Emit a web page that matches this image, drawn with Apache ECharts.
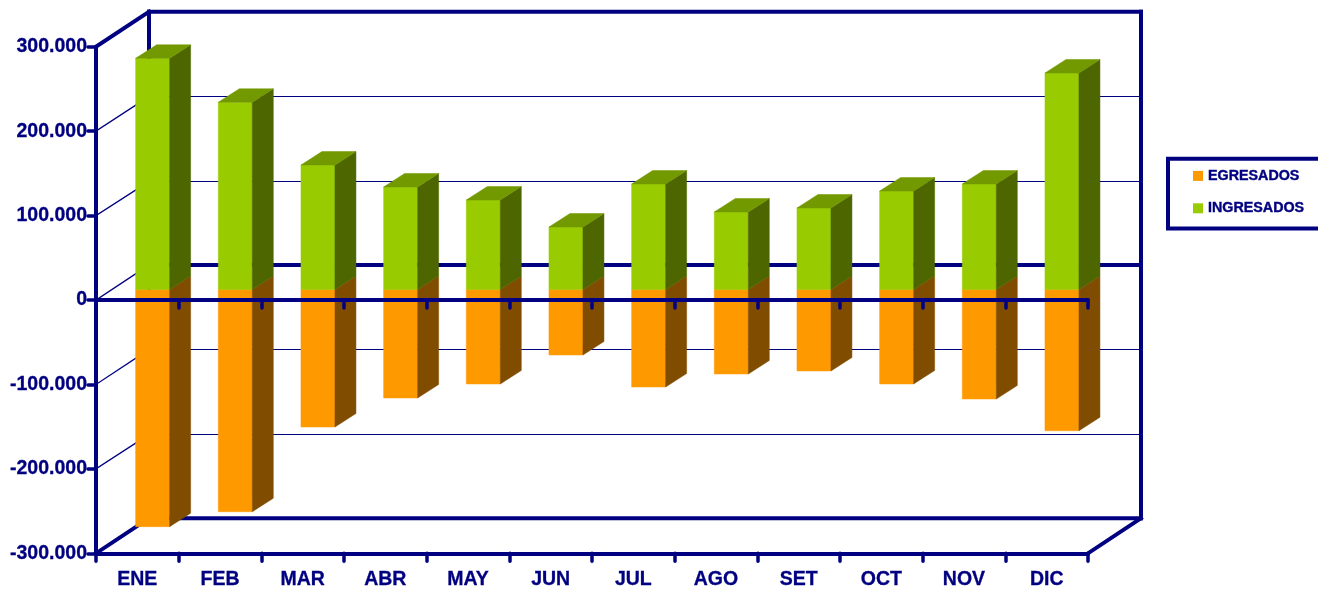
<!DOCTYPE html>
<html>
<head>
<meta charset="utf-8">
<style>
  html, body { margin: 0; padding: 0; background: #fff; }
  #chart { width: 1318px; height: 589px; }
</style>
<script src="https://cdn.jsdelivr.net/npm/echarts@6/dist/echarts.min.js"></script>
</head>
<body>
<div id="chart"></div>
<script>
var categories = ['ENE', 'FEB', 'MAR', 'ABR', 'MAY', 'JUN', 'JUL', 'AGO', 'SET', 'OCT', 'NOV', 'DIC'];
var ingresados = [273700, 221600, 147300, 121300, 105900, 73900, 124800, 91700, 96400, 116500, 124800, 256300];
var egresados = [-281000, -263300, -163000, -128600, -112000, -77700, -115600, -100200, -96600, -112000, -129800, -167400];
var yTicks = [-300000, -200000, -100000, 0, 100000, 200000, 300000];

var NAVY = '#000080';
var FONT = '"Liberation Sans", Arial, sans-serif';

// profundidad de la caja y de las barras, en pixeles
var boxDx = 53, boxDy = 35;
var barOffX = 15.3, barOffY = 10.6;
var barDx = 21, barDy = 13.5;

function thousands(v) {
  var s = String(Math.abs(v)).replace(/\B(?=(\d{3})+$)/g, '.');
  return (v < 0 ? '-' : '') + s;
}

function line(x1, y1, x2, y2, width) {
  return {
    type: 'line',
    shape: { x1: x1, y1: y1, x2: x2, y2: y2 },
    style: { stroke: NAVY, lineWidth: width, lineCap: 'square' }
  };
}

// paredes del fondo: una linea por cada marca del eje
function renderWalls(params, api) {
  var box = params.coordSys;
  var left = box.x, right = box.x + box.width;
  var v = api.value(1);
  var y = api.coord([0, v])[1];
  var edge = Math.abs(v) === 300000;
  var thick = edge || v === 0;
  var backY = thick ? y - boxDy : Math.round(y - boxDy) + 0.5;
  var items = [
    line(left + boxDx, backY, right + boxDx, backY, thick ? 4 : 1),
    line(left, y, left + boxDx, backY, edge ? 4 : 1.3)
  ];
  if (v === 300000) {
    items.push(line(left + boxDx, y - boxDy, left + boxDx, y - boxDy + box.height, 4));
    items.push(line(right + boxDx, y - boxDy, right + boxDx, y - boxDy + box.height, 4));
  }
  if (v === -300000) {
    items.push(line(right, y, right + boxDx, y - boxDy, 4));
  }
  return { type: 'group', silent: true, children: items };
}

function poly(points, fill) {
  return {
    type: 'polygon',
    shape: { points: points },
    style: { fill: fill, stroke: fill, lineWidth: 0.5 }
  };
}

function barRenderer(front, side, top) {
  return function (params, api) {
    var i = api.value(0), v = api.value(1);
    var base = api.coord([i, 0]);
    var end = api.coord([i, v]);
    var w = 34;
    var x0 = base[0] + barOffX - w / 2, x1 = x0 + w;
    var y0 = base[1] - barOffY, y1 = end[1] - barOffY;
    var items = [
      poly([[x0, y0], [x1, y0], [x1, y1], [x0, y1]], front),
      poly([[x1, y0], [x1 + barDx, y0 - barDy], [x1 + barDx, y1 - barDy], [x1, y1]], side)
    ];
    if (v > 0) {
      items.push(poly([[x0, y1], [x1, y1], [x1 + barDx, y1 - barDy], [x0 + barDx, y1 - barDy]], top));
    }
    return { type: 'group', children: items };
  };
}

var myChart = echarts.init(document.getElementById('chart'), null, { renderer: 'canvas' });

var tickStyle = { color: NAVY, width: 3.5, cap: 'round' };

var option = {
  animation: false,
  backgroundColor: '#fff',
  color: ['#FF9900', '#99CC00'],
  grid: { left: 96, top: 46.7, width: 992, height: 506.6, containLabel: false, outerBoundsMode: 'none' },
  legend: {
    data: ['EGRESADOS', 'INGRESADOS'],
    orient: 'vertical',
    left: 1168,
    top: 158.7,
    padding: [10, 30, 13, 25],
    itemWidth: 10,
    itemHeight: 10,
    itemGap: 18,
    icon: 'rect',
    borderColor: NAVY,
    borderWidth: 4,
    borderRadius: 0,
    textStyle: { color: NAVY, fontFamily: FONT, fontWeight: 'bold', fontSize: 14.3, textBorderColor: NAVY, textBorderWidth: 0.4 }
  },
  xAxis: [
    {
      type: 'category',
      data: categories,
      position: 'bottom',
      z: 5,
      axisLine: { onZero: false, lineStyle: { color: NAVY, width: 4 } },
      axisTick: { show: true, alignWithLabel: false, length: 8, lineStyle: tickStyle },
      axisLabel: { margin: 16, color: NAVY, fontFamily: FONT, fontWeight: 'bold', fontSize: 19.5, textBorderColor: NAVY, textBorderWidth: 0.3 },
      splitLine: { show: false }
    },
    {
      type: 'category',
      data: categories,
      position: 'bottom',
      z: 5,
      axisLine: { onZero: true, lineStyle: { color: NAVY, width: 4 } },
      axisTick: { show: true, alignWithLabel: false, length: 8, lineStyle: tickStyle },
      axisLabel: { show: false },
      splitLine: { show: false }
    }
  ],
  yAxis: {
    type: 'value',
    min: -300000,
    max: 300000,
    interval: 100000,
    z: 5,
    axisLine: { show: true, lineStyle: { color: NAVY, width: 4 } },
    axisTick: { show: true, length: 8, lineStyle: tickStyle },
    axisLabel: { margin: 9, color: NAVY, fontFamily: FONT, fontWeight: 'bold', fontSize: 19.5, textBorderColor: NAVY, textBorderWidth: 0.3, formatter: thousands },
    splitLine: { show: false }
  },
  series: [
    {
      name: 'paredes',
      type: 'custom',
      z: 1,
      silent: true,
      renderItem: renderWalls,
      data: yTicks.map(function (v) { return [0, v]; })
    },
    {
      name: 'EGRESADOS',
      type: 'custom',
      z: 2,
      itemStyle: { color: '#FF9900' },
      renderItem: barRenderer('#FF9900', '#804D00', '#BF7300'),
      data: egresados.map(function (v, i) { return [i, v]; })
    },
    {
      name: 'INGRESADOS',
      type: 'custom',
      z: 2,
      itemStyle: { color: '#99CC00' },
      renderItem: barRenderer('#99CC00', '#4D6600', '#739900'),
      data: ingresados.map(function (v, i) { return [i, v]; })
    }
  ]
};

option && myChart.setOption(option);
</script>
</body>
</html>
